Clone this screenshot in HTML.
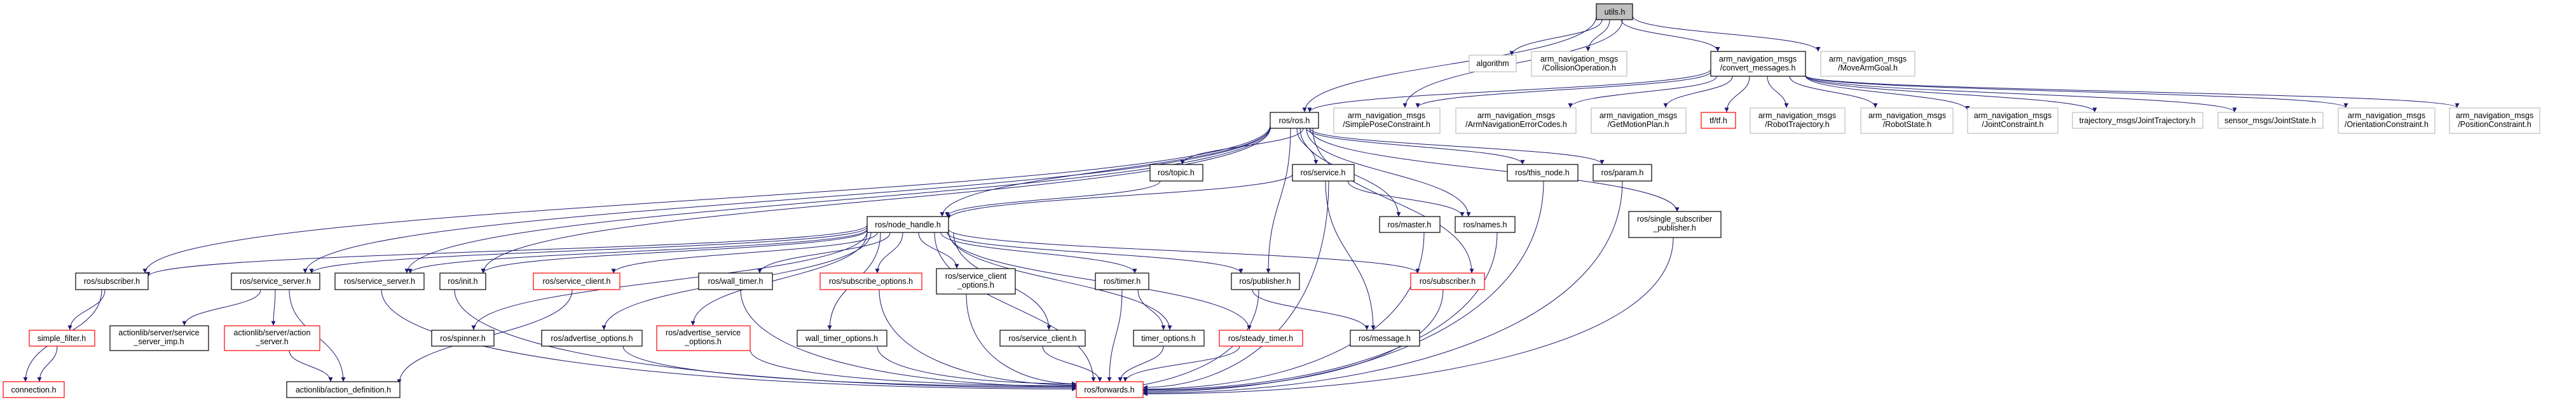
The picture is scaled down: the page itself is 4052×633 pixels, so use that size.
<!DOCTYPE html>
<html><head><meta charset="utf-8">
<style>
html,body{margin:0;padding:0;background:#fff;overflow:hidden;}
svg{display:block;}
text{font-family:"Liberation Sans",Arial,sans-serif;font-size:12.5px;fill:#000;text-anchor:middle;}
.b{fill:#fff;stroke:#000;stroke-width:1.2;}
.g{fill:#fff;stroke:#bfbfbf;stroke-width:1.2;}
.r{fill:#fff;stroke:#ff0000;stroke-width:1.2;}
.e{fill:none;stroke:#191970;stroke-width:1;}
</style></head><body>
<svg id="s" width="4052" height="633" viewBox="0 0 4052 633" xmlns="http://www.w3.org/2000/svg">
<defs><marker id="a" viewBox="0 0 10 10" refX="10" refY="5" markerWidth="10" markerHeight="7" markerUnits="userSpaceOnUse" orient="auto"><path d="M0,0 L10,5 L0,10 z" fill="#191970"/></marker></defs>
<g id="edges"></g>
<rect x="2511" y="6" width="57" height="25" fill="#bfbfbf" stroke="#000" stroke-width="1.2"/><text x="2540" y="23">utils.h</text>
<rect class="g" x="2311" y="87" width="74" height="26"/><text x="2348" y="104">algorithm</text>
<rect class="g" x="2409" y="81" width="150" height="39"/><text x="2484" y="97">arm_navigation_msgs</text><text x="2484" y="111">/CollisionOperation.h</text>
<rect class="b" x="2691" y="81" width="149" height="39"/><text x="2765" y="97">arm_navigation_msgs</text><text x="2765" y="111">/convert_messages.h</text>
<rect class="g" x="2864" y="81" width="148" height="39"/><text x="2938" y="97">arm_navigation_msgs</text><text x="2938" y="111">/MoveArmGoal.h</text>
<rect class="b" x="1998" y="177" width="76" height="25"/><text x="2036" y="194">ros/ros.h</text>
<rect class="g" x="2098" y="170" width="167" height="40"/><text x="2181" y="186">arm_navigation_msgs</text><text x="2181" y="200">/SimplePoseConstraint.h</text>
<rect class="g" x="2290" y="170" width="189" height="40"/><text x="2385" y="186">arm_navigation_msgs</text><text x="2385" y="200">/ArmNavigationErrorCodes.h</text>
<rect class="g" x="2503" y="170" width="149" height="40"/><text x="2577" y="186">arm_navigation_msgs</text><text x="2577" y="200">/GetMotionPlan.h</text>
<rect class="r" x="2676" y="177" width="54" height="25"/><text x="2703" y="194">tf/tf.h</text>
<rect class="g" x="2753" y="170" width="149" height="40"/><text x="2827" y="186">arm_navigation_msgs</text><text x="2827" y="200">/RobotTrajectory.h</text>
<rect class="g" x="2927" y="170" width="145" height="40"/><text x="3000" y="186">arm_navigation_msgs</text><text x="3000" y="200">/RobotState.h</text>
<rect class="g" x="3095" y="170" width="142" height="40"/><text x="3166" y="186">arm_navigation_msgs</text><text x="3166" y="200">/JointConstraint.h</text>
<rect class="g" x="3260" y="177" width="205" height="25"/><text x="3362" y="194">trajectory_msgs/JointTrajectory.h</text>
<rect class="g" x="3489" y="177" width="165" height="25"/><text x="3571" y="194">sensor_msgs/JointState.h</text>
<rect class="g" x="3678" y="170" width="152" height="40"/><text x="3754" y="186">arm_navigation_msgs</text><text x="3754" y="200">/OrientationConstraint.h</text>
<rect class="g" x="3853" y="170" width="142" height="40"/><text x="3924" y="186">arm_navigation_msgs</text><text x="3924" y="200">/PositionConstraint.h</text>
<rect class="b" x="1809" y="259" width="83" height="26"/><text x="1850" y="276">ros/topic.h</text>
<rect class="b" x="2033" y="259" width="97" height="26"/><text x="2081" y="276">ros/service.h</text>
<rect class="b" x="2371" y="259" width="111" height="26"/><text x="2426" y="276">ros/this_node.h</text>
<rect class="b" x="2506" y="259" width="92" height="26"/><text x="2552" y="276">ros/param.h</text>
<rect class="b" x="1364" y="341" width="128" height="25"/><text x="1428" y="358">ros/node_handle.h</text>
<rect class="b" x="2170" y="341" width="95" height="25"/><text x="2217" y="358">ros/master.h</text>
<rect class="b" x="2289" y="341" width="94" height="25"/><text x="2336" y="358">ros/names.h</text>
<rect class="b" x="2562" y="333" width="145" height="41"/><text x="2634" y="349">ros/single_subscriber</text><text x="2634" y="363">_publisher.h</text>
<rect class="b" x="119" y="430" width="114" height="26"/><text x="176" y="447">ros/subscriber.h</text>
<rect class="b" x="364" y="430" width="139" height="26"/><text x="433" y="447">ros/service_server.h</text>
<rect class="b" x="527" y="430" width="140" height="26"/><text x="597" y="447">ros/service_server.h</text>
<rect class="b" x="692" y="430" width="72" height="26"/><text x="728" y="447">ros/init.h</text>
<rect class="r" x="839" y="430" width="136" height="26"/><text x="907" y="447">ros/service_client.h</text>
<rect class="b" x="1099" y="430" width="116" height="26"/><text x="1157" y="447">ros/wall_timer.h</text>
<rect class="r" x="1290" y="430" width="160" height="26"/><text x="1370" y="447">ros/subscribe_options.h</text>
<rect class="b" x="1473" y="423" width="124" height="40"/><text x="1535" y="439">ros/service_client</text><text x="1535" y="453">_options.h</text>
<rect class="b" x="1723" y="430" width="84" height="26"/><text x="1765" y="447">ros/timer.h</text>
<rect class="b" x="1937" y="430" width="107" height="26"/><text x="1990" y="447">ros/publisher.h</text>
<rect class="r" x="2219" y="430" width="116" height="26"/><text x="2277" y="447">ros/subscriber.h</text>
<rect class="r" x="46" y="520" width="103" height="25"/><text x="97" y="537">simple_filter.h</text>
<rect class="b" x="173" y="513" width="155" height="39"/><text x="250" y="528">actionlib/server/service</text><text x="250" y="542">_server_imp.h</text>
<rect class="r" x="353" y="513" width="150" height="39"/><text x="428" y="528">actionlib/server/action</text><text x="428" y="542">_server.h</text>
<rect class="b" x="679" y="520" width="98" height="25"/><text x="728" y="537">ros/spinner.h</text>
<rect class="b" x="852" y="520" width="158" height="25"/><text x="931" y="537">ros/advertise_options.h</text>
<rect class="r" x="1033" y="513" width="147" height="39"/><text x="1106" y="528">ros/advertise_service</text><text x="1106" y="542">_options.h</text>
<rect class="b" x="1254" y="520" width="141" height="25"/><text x="1324" y="537">wall_timer_options.h</text>
<rect class="b" x="1573" y="520" width="134" height="25"/><text x="1640" y="537">ros/service_client.h</text>
<rect class="b" x="1783" y="520" width="111" height="25"/><text x="1838" y="537">timer_options.h</text>
<rect class="r" x="1918" y="520" width="131" height="25"/><text x="1983" y="537">ros/steady_timer.h</text>
<rect class="b" x="2124" y="520" width="109" height="25"/><text x="2178" y="537">ros/message.h</text>
<rect class="r" x="5" y="601" width="96" height="25"/><text x="53" y="618">connection.h</text>
<rect class="b" x="451" y="601" width="178" height="25"/><text x="540" y="618">actionlib/action_definition.h</text>
<rect class="r" x="1693" y="601" width="105" height="25"/><text x="1745" y="618">ros/forwards.h</text>
</svg>
<script>
var E=[
[2511,40,2052,279],[2520,49,2378,138],[2532,49,2498,128],[2550,49,2702,128],[2568,40,2860,128],[2552,49,2210,268],
[2691,172,2060,279],[2691,178,2230,268],[2700,190,2470,268],[2725,190,2620,268],[2752,190,2716,279],[2780,190,2810,268],[2815,190,2950,268],
[2840,188,3095,275],[2840,188,3295,279],[2840,188,3515,279],[2840,188,3690,268],[2840,188,3865,268],
[2040,319,2070,409],[2050,319,1860,409],[2055,319,2395,409],[2060,319,2520,409],[2060,319,2638,527],[2045,319,2200,539],[2055,319,2310,539],
[2000,310,1482,539],[2030,319,1995,680],[2065,319,2315,680],[1998,312,228,680],[1998,314,480,680],[1998,316,640,680],[1998,318,760,680],
[1825,450,1490,539],[2035,430,1492,545],[2120,450,2300,539],[2085,450,2160,821],[2090,450,1798,964],
[1364,560,233,688],[1364,565,490,680],[1364,570,645,680],[1364,572,760,680],[1364,575,745,821],[1380,579,965,680],[1370,579,950,821],[1364,579,1090,810],
[1400,579,1195,680],[1385,579,1305,821],[1420,579,1380,680],[1445,579,1505,668],[1480,579,1785,680],[1490,579,1952,680],[1492,570,2230,680],
[1492,575,1840,821],[1492,578,1965,821],[1500,579,1650,821],[1470,579,1720,950],
[160,721,40,950],[165,721,110,821],[90,861,62,950],[410,721,290,810],[433,721,430,810],[455,721,540,950],[455,872,520,950],[900,721,628,955],
[600,721,1693,968],[715,721,1693,965],[980,861,1693,962],[1180,870,1693,960],[1165,721,1693,962],[1383,721,1693,958],[1380,861,1693,955],[1520,732,1693,955],[1640,861,1730,950],
[1765,721,1745,950],[1790,721,1830,821],[1830,861,1762,950],[1950,861,1770,950],[1970,721,2150,821],[1980,721,1693,972],[2270,721,1798,972],[2240,579,1798,968],[2355,579,1798,970],[2428,450,1798,975],[2552,450,1798,978],[2632,591,1798,980]
];
var k=0.6328,g=document.getElementById('edges'),h='';
E.forEach(function(e){var x1=e[0],y1=e[1]*k,x2=e[2],y2=e[3]*k,d=(y2-y1)/2,p;
 if(x2==1693||x2==1798){p='M'+x1+','+y1+' C'+x1+','+(y1+(y2-y1)*0.7)+' '+(x1+x2)/2+','+y2+' '+x2+','+y2;}
 else p='M'+x1+','+y1+' C'+x1+','+(y1+d)+' '+x2+','+(y2-d)+' '+x2+','+y2;
 h+='<path class="e" marker-end="url(#a)" d="'+p+'"/>';});
g.innerHTML=h;
</script>
</body></html>
